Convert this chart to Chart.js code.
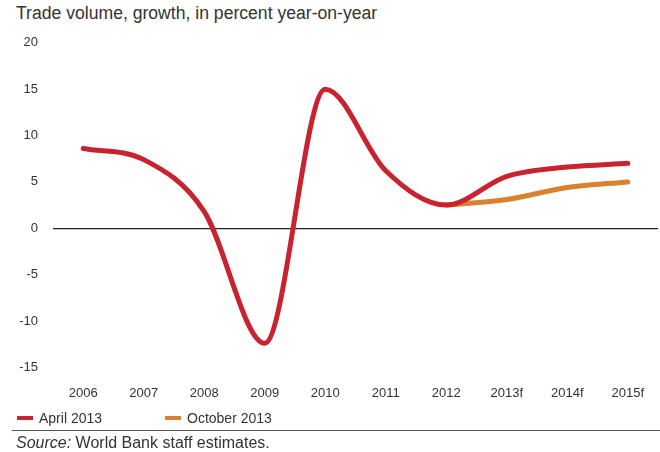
<!DOCTYPE html>
<html>
<head>
<meta charset="utf-8">
<script src="https://cdn.jsdelivr.net/npm/chart.js@4/dist/chart.umd.min.js"></script>
<style>
  body { margin: 0; background: #fff; font-family: "Liberation Sans", Arial, sans-serif; color: #333; }
  #wrap { position: relative; width: 660px; height: 452px; overflow: hidden; }
  #title { position: absolute; left: 16px; top: 3px; font-size: 17.6px; color: #333; }
  #box { position: absolute; left: 0; top: 20px; width: 660px; height: 391px; }
  .legend { position: absolute; top: 410px; font-size: 14px; color: #333; }
  .legend span.mark { display: inline-block; width: 16px; height: 4px; vertical-align: middle; margin-right: 6px; position: relative; top: -1px; }
  #rule { position: absolute; left: 12px; right: 0; top: 430px; border-top: 1.5px solid #555; }
  #source { position: absolute; left: 16px; top: 434px; font-size: 16px; color: #333; }
</style>
</head>
<body>
<div id="wrap">
  <div id="title">Trade volume, growth, in percent year-on-year</div>
  <div id="box"><canvas id="chart"></canvas></div>
  <div class="legend" style="left:17px"><span class="mark" style="background:#c8232e"></span>April 2013</div>
  <div class="legend" style="left:165px"><span class="mark" style="background:#d8812e"></span>October 2013</div>
  <div id="rule"></div>
  <div id="source"><i>Source:</i> World Bank staff estimates.</div>
</div>
<script>
const years = ['2006', '2007', '2008', '2009', '2010', '2011', '2012', '2013f', '2014f', '2015f'];
const april2013 = [8.6, 7.4, 1.8, -12.4, 15.0, 6.2, 2.5, 5.6, 6.6, 7.0];
const october2013 = [null, null, null, null, null, null, 2.5, 3.1, 4.4, 5.0];
const yTicks = [20, 15, 10, 5, 0, -5, -10, -15];

const ctx = document.getElementById('chart').getContext('2d');
new Chart(ctx, {
    type: 'line',
    data: {
        labels: years,
        datasets: [
            { label: 'April 2013', data: april2013, borderColor: '#c8232e', borderWidth: 5,
              borderCapStyle: 'round', cubicInterpolationMode: 'monotone', pointRadius: 0, fill: false },
            { label: 'October 2013', data: october2013, borderColor: '#d8812e', borderWidth: 5,
              borderCapStyle: 'round', cubicInterpolationMode: 'monotone', pointRadius: 0, fill: false }
        ]
    },
    options: {
        responsive: true,
        maintainAspectRatio: false,
        animation: false,
        layout: { padding: { top: 6, right: 2 } },
        plugins: { legend: { display: false }, tooltip: { enabled: false } },
        scales: {
            x: {
                offset: true,
                grid: { display: false },
                border: { display: false },
                ticks: { color: '#333', font: { size: 13, family: 'Liberation Sans' }, padding: 10, maxRotation: 0 }
            },
            y: {
                min: Math.min(...yTicks),
                max: Math.max(...yTicks),
                afterBuildTicks: s => { s.ticks = yTicks.map(v => ({ value: v })); },
                afterFit: s => { s.width = 53; },
                border: { display: false },
                grid: {
                    drawTicks: false,
                    color: c => c.tick && c.tick.value === 0 ? '#222' : 'rgba(0,0,0,0)',
                    lineWidth: 1.2
                },
                ticks: { color: '#333', font: { size: 13, family: 'Liberation Sans' }, padding: 15 }
            }
        }
    }
});
</script>
</body>
</html>
